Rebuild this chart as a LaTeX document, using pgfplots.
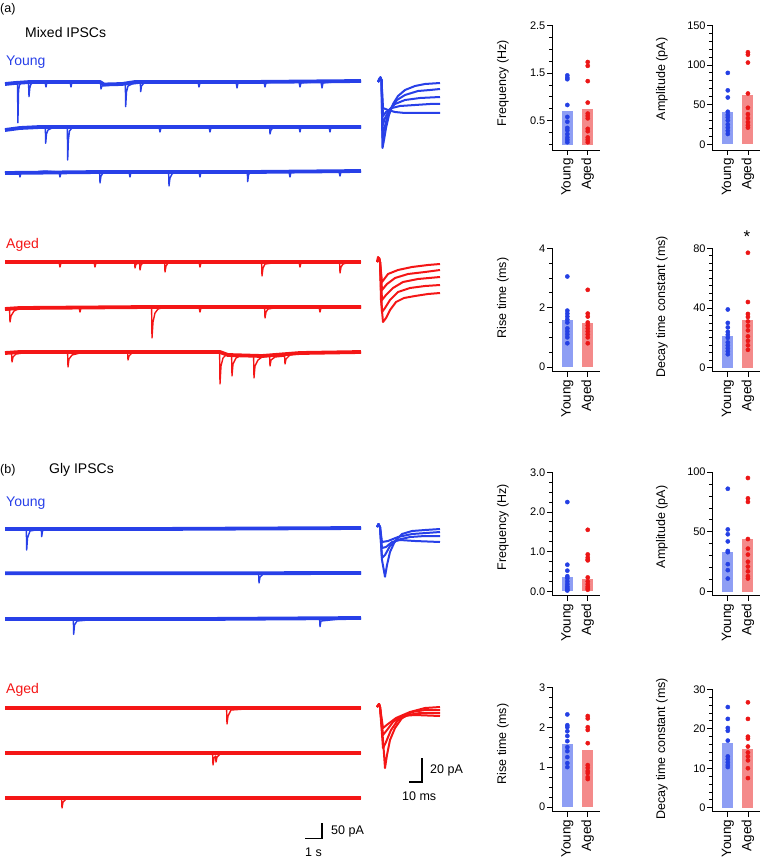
\documentclass[border=0pt]{standalone}
\usepackage{fontspec}
\setmainfont{Liberation Sans}
\usepackage{pgfplots}
\pgfplotsset{compat=1.18}
\definecolor{tblue}{RGB}{40,64,232}
\definecolor{tred}{RGB}{244,22,22}
\definecolor{barblue}{RGB}{142,158,244}
\definecolor{barred}{RGB}{244,138,138}
\definecolor{dblue}{RGB}{36,64,228}
\definecolor{dred}{RGB}{236,22,22}
\pgfplotsset{
 barax/.style={scale only axis, width=48pt, axis lines*=left,
  axis line style={line width=0.9pt}, tick align=outside,
  xmin=-0.75, xmax=1.6, xtick={0,1}, xticklabels={Young,Aged},
  xticklabel style={rotate=90, anchor=east, font=\fontsize{13.5}{14}\selectfont, inner sep=1pt},
  xticklabel shift=2pt,
  yticklabel style={font=\fontsize{11}{12}\selectfont, inner sep=1.5pt},
  major tick length=5pt, minor tick length=3pt,
  every tick/.style={black, line width=0.8pt},
  clip=false, anchor=south west,
  /pgf/number format/assume math mode=true,
 },
 bary/.style={ybar, bar width=11pt, bar shift=0pt, fill=barblue, draw=none},
 baro/.style={ybar, bar width=11pt, bar shift=0pt, fill=barred, draw=none},
 doty/.style={only marks, mark=*, mark size=2.1pt, color=dblue},
 doto/.style={only marks, mark=*, mark size=2.1pt, color=dred},
 bandb/.style={line width=3.8pt, color=tblue, line join=round},
 bandr/.style={line width=3.8pt, color=tred, line join=round},
 tra/.style={line width=1.4pt, color=tblue, line join=round},
 trb/.style={line width=1.4pt, color=tred, line join=round},
 ova/.style={line width=2pt, color=tblue, line join=round},
 ovb/.style={line width=2pt, color=tred, line join=round},
}
\newcommand{\labtxt}[1]{\fontsize{12.5}{13}\selectfont #1}
\newcommand{\bigtxt}[1]{\fontsize{14}{15}\selectfont #1}
\begin{document}
\begin{tikzpicture}[x=1pt,y=1pt]
\path[use as bounding box] (0pt,0pt) rectangle (760pt,864pt);
% ---------------- traces ----------------
\begin{axis}[at={(0pt,0pt)}, anchor=south west, scale only axis, width=460pt, height=864pt,
  xmin=0, xmax=460, ymin=0, ymax=864, y dir=reverse, hide axis, clip=false]
% noise bands
\addplot[bandb] coordinates {(5,84)(15,83)(30,82)(100,82)(104,84.5)(122,84)(135,82)(250,82)(361,81)};
\addplot[bandb] coordinates {(5,130)(20,128)(40,127)(200,127)(361,127)};
\addplot[bandb] coordinates {(5,173)(100,172)(250,172)(361,171)};
\addplot[bandr] coordinates {(5,262)(150,262)(361,262)};
\addplot[bandr] coordinates {(5,309)(20,308)(150,307)(361,307)};
\addplot[bandr] coordinates {(5,353)(20,352)(220,352)(228,355)(262,356)(300,353)(361,352)};
\addplot[bandb] coordinates {(5,529)(150,529)(361,528)};
\addplot[bandb] coordinates {(5,573.3)(200,573.3)(361,573)};
\addplot[bandb] coordinates {(5,619)(200,619)(361,618)};
\addplot[bandr] coordinates {(5,708)(200,708)(361,708)};
\addplot[bandr] coordinates {(5,753)(200,753)(361,753)};
\addplot[bandr] coordinates {(5,798)(200,798)(361,798)};
% (a) young
\addplot[tra] coordinates {(5,84)(10,84)(14,83)(16,82)(17.5,82)(17.9,122.7)(18.6,90)(19.5,85)(21,83)(25,82)(28.5,82)(29,96.7)(29.8,88)(31,84)(34,82)(45,82)(46,87)(47,82)(60,81)(70,82)(71,87)(72,82)(85,82)(95,81)(100.5,82)(101,89)(102,86)(110,85)(120,84)(125.3,84)(125.7,106.7)(126.5,92)(128,86)(132,84)(140.3,83)(140.7,91.7)(141.5,86)(144,83)(155,82)(170,82)(185,81)(198,82)(199,87)(200,83)(215,82)(230,81)(236,82)(237,88)(238,83)(250,82)(264,82)(265,87)(266,83)(280,81)(299,82)(300,87)(301,83)(315,82)(321,82)(322,88)(323,83)(335,82)(350,81)(361,81)};
\addplot[tra] coordinates {(5,130)(12,129)(20,128)(30,127)(40,127)(45.3,127)(45.7,143.3)(46.5,134)(48,130)(52,128)(60,126)(67.3,127)(67.7,160)(68.4,140)(69.5,131)(72,128)(80,126)(95,127)(110,127)(125,126)(140,127)(159,127)(160,132)(161,128)(180,127)(195,126)(209,127)(210,132)(211,128)(230,127)(250,126)(269.6,127)(270,134)(271,130)(273,128)(285,127)(299,127)(300,132)(301,127)(315,126)(329,127)(330,132)(331,127)(345,127)(361,127)};
\addplot[tra] coordinates {(5,173)(15,172)(19,172)(20,177)(21,173)(35,172)(45,171)(59,172)(60,177)(61,173)(80,172)(99.6,172)(100,183)(101,176)(103,173)(115,172)(129,172)(130,177)(131,172)(150,172)(168.6,172)(169,186)(170,178)(172,174)(175,172)(185,172)(199,172)(200,177)(201,172)(220,172)(247.3,172)(247.7,181.7)(248.5,175)(250,172)(270,171)(289,172)(290,177)(291,172)(310,172)(339,172)(340,176)(341,172)(361,171)};
% (a) aged
\addplot[trb] coordinates {(5,262)(20,262)(40,262)(59,262)(60,267)(61,263)(80,262)(94,262)(95,267)(96,263)(115,262)(134.6,262)(135,268)(136,264)(139.6,263)(140,270)(141,265)(143,263)(150,262)(164.6,262)(165,272)(166,266)(168,263)(180,262)(199,262)(200,267)(201,263)(220,262)(240,262)(261.6,262)(262,276)(263,268)(265,264)(280,262)(299,262)(300,267)(301,263)(320,262)(339.6,262)(340,273)(341,267)(343,264)(350,262)(361,262)};
\addplot[trb] coordinates {(5,309)(8,310)(9.6,310)(10,322)(11,316)(14,311)(18,309)(25,308)(40,307)(60,307)(79,307)(80,312)(81,308)(100,307)(120,307)(140,307)(151.6,307)(152,338)(153,322)(155,313)(158,309)(165,307)(180,307)(199,307)(200,312)(201,308)(230,307)(250,307)(264.6,307)(265,318)(266,312)(268,309)(280,307)(300,307)(319,307)(320,312)(321,308)(340,307)(361,307)};
\addplot[trb] coordinates {(5,353)(11.6,353)(12,362)(13,357)(16,354)(30,352)(50,352)(67.6,352)(68,367)(69,359)(72,355)(80,353)(100,352)(127.6,352)(128,360)(129,356)(132,353)(150,352)(170,352)(190,352)(205,352)(219.6,352)(220,384)(221,366)(223,358)(226,355)(231.6,355)(232,376)(233,364)(236,358)(240,356)(253.6,356)(254,378)(255,366)(258,360)(262,357)(269.6,356)(270,366)(271,360)(275,357)(284.6,356)(285,364)(286,359)(290,355)(300,353)(320,352)(340,352)(361,352)};
% (b) young
\addplot[tra] coordinates {(5,529)(20,529)(26.3,529)(26.7,550)(27.5,538)(30,531)(41.3,529)(41.7,536.7)(42.5,531)(45,529)(60,529)(100,529)(140,529)(180,529)(220,528)(260,529)(300,528)(330,528)(361,528)};
\addplot[tra] coordinates {(5,573.3)(50,573.3)(100,573.3)(150,573.3)(200,573.3)(258.6,573.3)(259,583)(260,577)(263,574)(300,573.3)(361,573)};
\addplot[tra] coordinates {(5,619)(40,619)(73.3,619)(73.7,634.3)(74.5,625)(77,621)(100,619)(150,619)(200,619)(250,619)(300,619)(319.6,619)(320,626.7)(321,621)(340,619)(361,618)};
% (b) aged
\addplot[trb] coordinates {(5,708)(50,708)(100,708)(150,708)(200,708)(226.6,708)(227,724)(228,716)(231,710)(260,708)(300,708)(361,708)};
\addplot[trb] coordinates {(5,753)(50,753)(100,753)(150,753)(200,753)(212.6,753)(213,765)(214,758)(215.6,756)(216,762)(217,757)(220,754)(260,753)(300,753)(361,753)};
\addplot[trb] coordinates {(5,798)(50,798)(61.6,798)(62,808)(63,802)(66,799)(100,798)(150,798)(200,798)(250,798)(300,798)(361,798)};
% overlays (a) young
\addplot[ova] coordinates {(378,82)(379,79)(380.5,77)(381.5,80)(382.5,148)(384,140)(386,128)(389,115)(393,104)(398,96)(405,90)(415,86)(425,84)(440,83)};
\addplot[ova] coordinates {(378,82)(380.5,78)(381.5,80)(382.5,138)(384,130)(387,118)(391,108)(397,100)(405,95)(418,91)(430,90)(440,89)};
\addplot[ova] coordinates {(378,82)(380.5,78)(381.5,80)(382.5,126)(385,118)(389,110)(395,104)(405,100)(420,98)(440,97)};
\addplot[ova] coordinates {(378,82)(380.5,78)(381.5,80)(383,116)(386,112)(392,108)(400,106)(415,105)(430,104)(440,104)};
\addplot[ova] coordinates {(378,82)(380.5,78)(381.5,80)(383,108)(388,110)(395,112)(405,113)(420,113)(440,113)};
% overlays (a) aged
\addplot[ovb] coordinates {(377,262)(378,257)(379,258)(380,262)(381,300)(383,322)(386,318)(390,310)(396,302)(404,298)(415,296)(428,294)(440,293)};
\addplot[ovb] coordinates {(377,262)(379,258)(380,262)(382,312)(385,308)(390,300)(398,292)(410,288)(425,286)(440,285)};
\addplot[ovb] coordinates {(377,262)(379,258)(380,262)(382,300)(386,295)(393,288)(403,282)(418,279)(440,277)};
\addplot[ovb] coordinates {(377,262)(379,258)(380,262)(382,290)(387,284)(395,278)(408,274)(425,272)(440,270)};
\addplot[ovb] coordinates {(377,262)(379,258)(380,262)(382,282)(388,274)(398,270)(412,267)(428,265)(440,264)};
% overlays (b) young
\addplot[ova] coordinates {(377,527)(378.5,524)(380,527)(382,560)(385,576.7)(387,565)(390,552)(395,541)(402,534)(412,531)(425,530)(440,529)};
\addplot[ova] coordinates {(377,527)(378.5,524)(380,527)(382,558)(385,555)(390,546)(397,540)(410,537)(425,536)(440,536)};
\addplot[ova] coordinates {(377,527)(378.5,524)(380,527)(382,548)(386,547)(392,542)(400,540)(415,541)(440,542)};
\addplot[ova] coordinates {(377,527)(378.5,524)(380,527)(382,542)(388,541)(398,537)(412,534)(440,532)};
% overlays (b) aged
\addplot[ovb] coordinates {(377,707)(379,704)(380,707)(383,740)(385,768)(387,755)(390,740)(395,728)(402,718)(412,712)(425,710)(440,710)};
\addplot[ovb] coordinates {(377,707)(379,704)(380,707)(383,748)(386,742)(391,730)(398,720)(408,715)(420,713)(440,713)};
\addplot[ovb] coordinates {(377,707)(379,704)(380,707)(383,735)(387,730)(393,722)(402,716)(415,715)(440,716)};
\addplot[ovb] coordinates {(377,707)(379,704)(380,707)(383,728)(388,724)(396,718)(410,712)(425,708)(440,707)};
% scale bars
\addplot[black, line width=1.6pt] coordinates {(409.3,781.7)(421.7,781.7)(421.7,758)};
\addplot[black, line width=1.6pt] coordinates {(305,838.3)(321.7,838.3)(321.7,822.7)};
\end{axis}
% ---------------- texts ----------------
\node[anchor=west, inner sep=0] at (0pt,855pt) {\labtxt{(a)}};
\node[anchor=west, inner sep=0] at (25pt,831pt) {\bigtxt{Mixed IPSCs}};
\node[anchor=west, inner sep=0, text=tblue] at (6pt,802pt) {\bigtxt{Young}};
\node[anchor=west, inner sep=0, text=tred] at (6pt,619pt) {\bigtxt{Aged}};
\node[anchor=west, inner sep=0] at (0pt,394pt) {\labtxt{(b)}};
\node[anchor=west, inner sep=0] at (49pt,394pt) {\bigtxt{Gly IPSCs}};
\node[anchor=west, inner sep=0, text=tblue] at (6pt,361pt) {\bigtxt{Young}};
\node[anchor=west, inner sep=0, text=tred] at (6pt,174pt) {\bigtxt{Aged}};
\node[anchor=west, inner sep=0] at (430pt,94pt) {\labtxt{20 pA}};
\node[anchor=west, inner sep=0] at (402pt,68pt) {\labtxt{10 ms}};
\node[anchor=west, inner sep=0] at (331pt,33pt) {\labtxt{50 pA}};
\node[anchor=west, inner sep=0] at (305pt,12pt) {\labtxt{1 s}};
% y labels
\node[rotate=90, inner sep=0] at (503pt,781pt) {\labtxt{Frequency (Hz)}};
\node[rotate=90, inner sep=0] at (662pt,785pt) {\labtxt{Amplitude (pA)}};
\node[rotate=90, inner sep=0] at (503pt,566pt) {\labtxt{Rise time (ms)}};
\node[rotate=90, inner sep=0] at (662pt,557pt) {\labtxt{Decay time constant (ms)}};
\node[rotate=90, inner sep=0] at (503pt,337pt) {\labtxt{Frequency (Hz)}};
\node[rotate=90, inner sep=0] at (662pt,337pt) {\labtxt{Amplitude (pA)}};
\node[rotate=90, inner sep=0] at (503pt,120pt) {\labtxt{Rise time (ms)}};
\node[rotate=90, inner sep=0] at (662pt,115pt) {\labtxt{Decay time constant (ms)}};
\node[inner sep=0] at (747pt,627pt) {\fontsize{17}{17}\selectfont *};
% ---------------- bar panels ----------------
% P1 frequency mixed
\begin{axis}[barax, at={(552pt,714pt)}, height=124.7pt, ymin=-0.113, ymax=2.5,
  ytick={0.5,1.5,2.5}, minor ytick={0,0.25,...,2.5},
  yticklabel style={/pgf/number format/.cd, fixed, fixed zerofill, precision=1}]
\addplot[bary] coordinates {(0,0.7)};
\addplot[baro] coordinates {(1,0.75)};
\addplot[doty] coordinates {(0,1.45)(0,1.40)(0,1.37)(0,0.83)(0,0.58)(0,0.48)(0,0.35)(0,0.30)(0,0.22)(0,0.15)(0,0.10)(0,0.05)};
\addplot[doto] coordinates {(1,1.73)(1,1.65)(1,1.33)(1,0.88)(1,0.65)(1,0.60)(1,0.55)(1,0.33)(1,0.28)(1,0.15)(1,0.10)(1,0.05)};
\end{axis}
% P2 amplitude mixed
\begin{axis}[barax, at={(712.3pt,714pt)}, width=47.7pt, xmin=-0.77, height=124.7pt, ymin=-7.2, ymax=150,
  ytick={0,50,100,150}, minor ytick={0,10,...,150}]
\addplot[bary] coordinates {(0,41)};
\addplot[baro] coordinates {(1,62)};
\addplot[doty] coordinates {(0,90)(0,68)(0,59)(0,41)(0,37)(0,34)(0,30)(0,25)(0,21)(0,17)(0,13)};
\addplot[doto] coordinates {(1,116)(1,113)(1,103)(1,64)(1,46)(1,38)(1,33)(1,28)(1,24)(1,21)};
\end{axis}
% P3 rise mixed
\begin{axis}[barax, at={(552pt,492.3pt)}, height=123.4pt, ymin=-0.158, ymax=4,
  ytick={0,2,4}, minor ytick={0,0.5,...,4}]
\addplot[bary] coordinates {(0,1.6)};
\addplot[baro] coordinates {(1,1.48)};
\addplot[doty] coordinates {(0,3.05)(0,1.9)(0,1.8)(0,1.7)(0,1.6)(0,1.5)(0,1.3)(0,1.2)(0,1.1)(0,1.0)(0,0.8)};
\addplot[doto] coordinates {(1,2.6)(1,1.8)(1,1.7)(1,1.5)(1,1.4)(1,1.3)(1,1.2)(1,1.1)(1,1.0)(1,0.8)};
\end{axis}
% P4 decay mixed
\begin{axis}[barax, at={(712.3pt,492.3pt)}, width=47.7pt, xmin=-0.77, height=123.4pt, ymin=-2.68, ymax=80,
  ytick={0,40,80}, minor ytick={0,5,...,80}]
\addplot[bary] coordinates {(0,21)};
\addplot[baro] coordinates {(1,32)};
\addplot[doty] coordinates {(0,39)(0,30)(0,27)(0,24)(0,22)(0,20)(0,17)(0,15)(0,13)(0,11)(0,9)};
\addplot[doto] coordinates {(1,77)(1,44)(1,36)(1,34)(1,31)(1,28)(1,25)(1,21)(1,18)(1,15)(1,12)};
\end{axis}
% P5 frequency gly
\begin{axis}[barax, at={(552pt,268.3pt)}, height=123.4pt, ymin=-0.111, ymax=3,
  ytick={0,1,2,3}, minor ytick={0,0.25,...,3},
  yticklabel style={/pgf/number format/.cd, fixed, fixed zerofill, precision=1}]
\addplot[bary] coordinates {(0,0.35)};
\addplot[baro] coordinates {(1,0.32)};
\addplot[doty] coordinates {(0,2.25)(0,0.67)(0,0.52)(0,0.38)(0,0.33)(0,0.25)(0,0.18)(0,0.12)(0,0.08)(0,0.04)(0,0.02)};
\addplot[doto] coordinates {(1,1.55)(1,0.93)(1,0.85)(1,0.80)(1,0.78)(1,0.35)(1,0.25)(1,0.18)(1,0.12)(1,0.08)(1,0.04)};
\end{axis}
% P6 amplitude gly
\begin{axis}[barax, at={(712.3pt,268.3pt)}, width=47.7pt, xmin=-0.77, height=123.7pt, ymin=-3.34, ymax=100,
  ytick={0,50,100}, minor ytick={0,10,...,100}]
\addplot[bary] coordinates {(0,33)};
\addplot[baro] coordinates {(1,44)};
\addplot[doty] coordinates {(0,86)(0,52)(0,48)(0,42)(0,34)(0,33)(0,23)(0,18)(0,11)};
\addplot[doto] coordinates {(1,95)(1,78)(1,75)(1,44)(1,36)(1,31)(1,25)(1,21)(1,17)(1,13)(1,11)};
\end{axis}
% P7 rise gly
\begin{axis}[barax, at={(552pt,52.3pt)}, height=124.4pt, ymin=-0.118, ymax=3,
  ytick={0,1,2,3}, minor ytick={0,0.25,...,3}]
\addplot[bary] coordinates {(0,1.57)};
\addplot[baro] coordinates {(1,1.42)};
\addplot[doty] coordinates {(0,2.32)(0,2.05)(0,2.0)(0,1.9)(0,1.78)(0,1.65)(0,1.5)(0,1.4)(0,1.25)(0,1.1)(0,1.0)};
\addplot[doto] coordinates {(1,2.28)(1,2.22)(1,2.0)(1,1.93)(1,1.6)(1,1.05)(1,0.98)(1,0.9)(1,0.85)(1,0.75)(1,0.7)};
\end{axis}
% P8 decay gly
\begin{axis}[barax, at={(712.3pt,52.3pt)}, width=47.7pt, xmin=-0.77, height=122.4pt, ymin=-1.01, ymax=30,
  ytick={0,10,20,30}, minor ytick={0,2,...,30}]
\addplot[bary] coordinates {(0,16.5)};
\addplot[baro] coordinates {(1,14.8)};
\addplot[doty] coordinates {(0,25.5)(0,22.5)(0,20.2)(0,19.5)(0,17)(0,13)(0,12.3)(0,11.5)(0,10.8)(0,10.3)};
\addplot[doto] coordinates {(1,26.7)(1,22.5)(1,18)(1,17.5)(1,15.5)(1,14)(1,13)(1,12)(1,10)(1,7.5)};
\end{axis}
\end{tikzpicture}
\end{document}
